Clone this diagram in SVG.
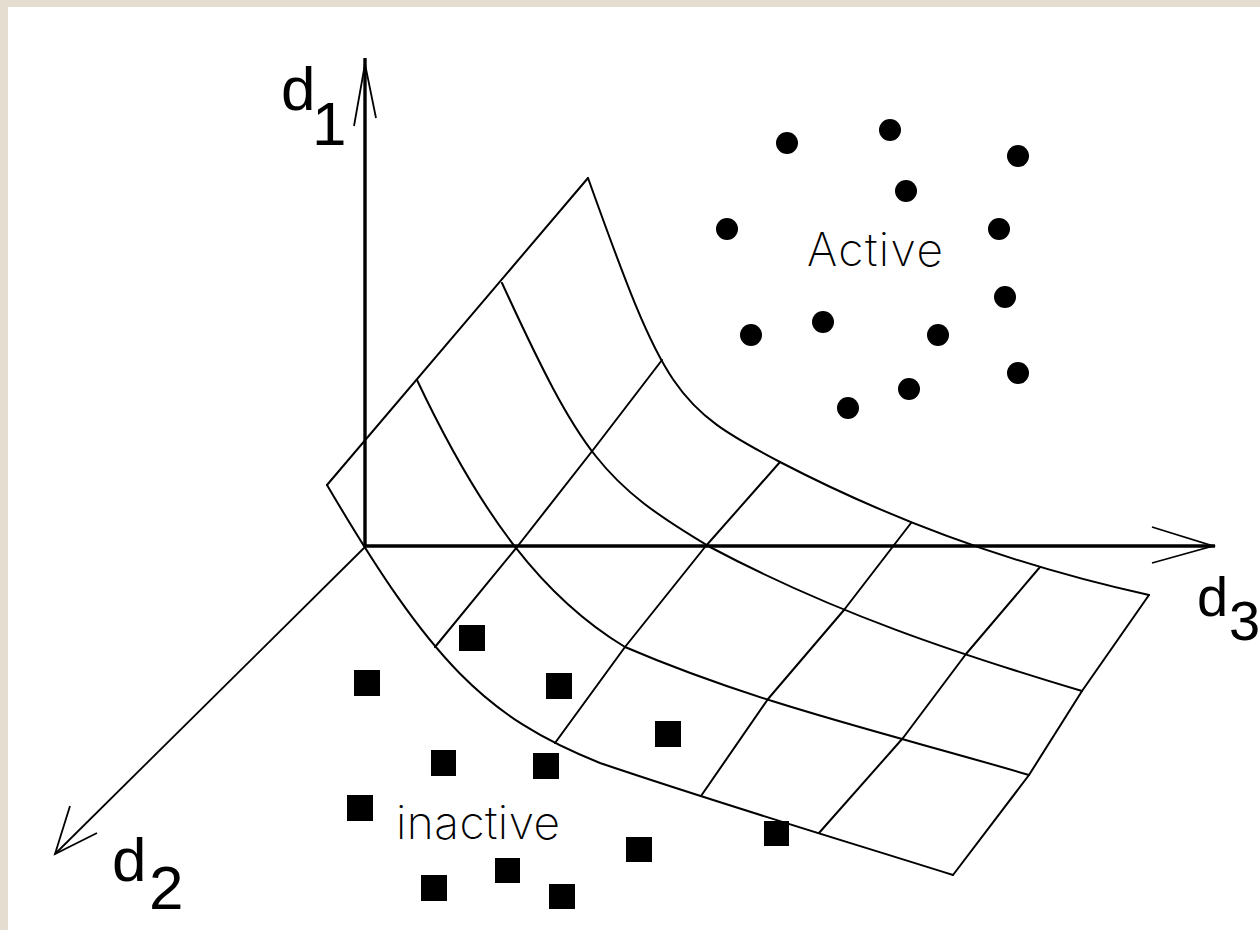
<svg xmlns="http://www.w3.org/2000/svg" width="1260" height="930" viewBox="0 0 1260 930">
<style>
.grid{fill:none;stroke:#000;stroke-width:2;stroke-linejoin:round;stroke-linecap:round}
.axis{fill:none;stroke:#000;stroke-width:3.4}
.thin{fill:none;stroke:#000;stroke-width:1.8;stroke-linejoin:miter}
.lbl{font-family:"Liberation Sans",Arial,sans-serif;font-size:62px;fill:#000}
.cls{font-family:Inter,"Liberation Sans",sans-serif;font-weight:200;font-size:46px;fill:#000}
.pt{fill:#000}
</style>
<rect width="1260" height="930" fill="#e5ddcf"/>
<rect x="8" y="7" width="1252" height="923" fill="#fff"/>
<g id="surface" class="grid">
<path d="M588,178 C665,393 675,407 780,462 C903,526 1026,568 1149,595"/>
<path d="M502,283 C582,457 603,483 710,547 C834,613 958,654 1082,691"/>
<path d="M417,380 C482.5,518.6 544.9,598.7 625,647 C760,705 894,735 1029,775"/>
<path d="M327,485 C431,662 485.6,717.4 600,763 C718,803 835,838 953,875"/>
<polyline points="327,485 588,178"/>
<polyline points="435,647 517,547 593,450 662,360"/>
<polyline points="555,743 625,647 705,547 780,462"/>
<polyline points="701,796 768,699 844,610 911,523"/>
<polyline points="819,833 903,738 966,654 1040,567"/>
<polyline points="953,875 1029,775 1082,691 1149,595"/>
</g>
<g id="connectors">
<line class="axis" x1="365" y1="58" x2="365" y2="547"/>
<polyline class="thin" points="354,126 365,64 376,118"/>
<line class="axis" x1="365" y1="546" x2="1215" y2="546"/>
<polyline class="thin" points="1152,527 1213,546 1152,563"/>
<line class="thin" x1="365" y1="547" x2="55" y2="854"/>
<polyline class="thin" points="70,806 55,854 97,833"/>
</g>
<g id="axis-labels" class="lbl">
<text x="281" y="110">d<tspan x="312" y="145">1</tspan></text>
<text x="112" y="881">d<tspan x="149" y="909">2</tspan></text>
<text x="1197" y="616" font-size="56">d<tspan x="1229" y="640">3</tspan></text>
</g>
<g id="active" class="pt">
<circle cx="787" cy="143" r="11"/>
<circle cx="890" cy="130" r="11"/>
<circle cx="1018" cy="156" r="11"/>
<circle cx="906" cy="191" r="11"/>
<circle cx="727" cy="229" r="11"/>
<circle cx="999" cy="229" r="11"/>
<circle cx="1005" cy="297" r="11"/>
<circle cx="751" cy="335" r="11"/>
<circle cx="823" cy="322" r="11"/>
<circle cx="938" cy="335" r="11"/>
<circle cx="1018" cy="373" r="11"/>
<circle cx="909" cy="389" r="11"/>
<circle cx="848" cy="408" r="11"/>
<text class="cls" x="807" y="266" textLength="136" lengthAdjust="spacing">Active</text>
</g>
<g id="inactive" class="pt">
<rect x="459" y="625" width="26" height="26"/>
<rect x="354" y="670" width="26" height="26"/>
<rect x="546" y="673" width="26" height="26"/>
<rect x="431" y="750" width="25" height="26"/>
<rect x="533" y="753" width="26" height="26"/>
<rect x="347" y="795" width="26" height="26"/>
<rect x="495" y="858" width="25" height="25"/>
<rect x="421" y="875" width="26" height="26"/>
<rect x="549" y="884" width="26" height="25"/>
<rect x="655" y="721" width="26" height="26"/>
<rect x="626" y="837" width="26" height="25"/>
<rect x="764" y="821" width="25" height="25"/>
<text class="cls" x="396" y="839" textLength="164" lengthAdjust="spacing">inactive</text>
</g>
</svg>
